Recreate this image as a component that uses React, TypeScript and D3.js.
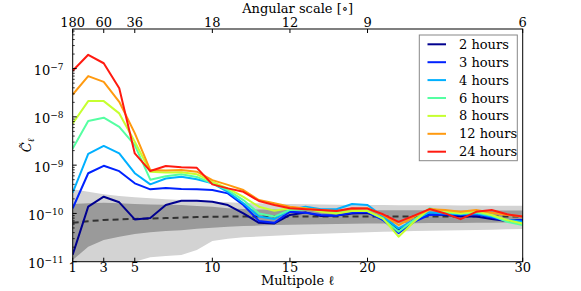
import * as d3 from "d3";

const multipoles = [1, 2, 3, 4, 5, 6, 7, 8, 9, 10, 11, 12, 13, 14, 15, 16, 17, 18, 19, 20, 21, 22, 23, 24, 25, 26, 27, 28, 29, 30];

const hours2 = [1.4e-11, 1.38e-10, 2.22e-10, 1.7e-10, 7.5e-11, 8.0e-11, 1.49e-10, 1.83e-10, 1.83e-10, 1.75e-10, 1.49e-10, 1.0e-10, 6.4e-11, 6.2e-11, 9.3e-11, 1.05e-10, 8.8e-11, 9.1e-11, 1.0e-10, 1.02e-10, 7.9e-11, 4.5e-11, 7.3e-11, 9.6e-11, 9.3e-11, 8.6e-11, 8.6e-11, 7.7e-11, 7.0e-11, 7.3e-11];
const hours3 = [1.28e-10, 6.8e-10, 9.7e-10, 7.5e-10, 4.2e-10, 3.15e-10, 3.36e-10, 3.2e-10, 3.15e-10, 3.05e-10, 2.6e-10, 1.49e-10, 7.0e-11, 6.4e-11, 1.08e-10, 1.03e-10, 9.3e-11, 9.0e-11, 1.03e-10, 1.07e-10, 7.3e-11, 3.9e-11, 6.7e-11, 9.3e-11, 9.6e-11, 9.3e-11, 9.6e-11, 8.2e-11, 7.0e-11, 7.3e-11];
const hours4 = [2.7e-10, 1.72e-9, 2.5e-9, 1.75e-9, 6.8e-10, 4.0e-10, 5.3e-10, 5.75e-10, 5.1e-10, 4.2e-10, 2.8e-10, 1.62e-10, 8.6e-11, 7.7e-11, 1.18e-10, 1.38e-10, 1.22e-10, 1.22e-10, 1.57e-10, 1.49e-10, 8.6e-11, 4.9e-11, 7.3e-11, 1.05e-10, 1.0e-10, 9.6e-11, 1.0e-10, 8.6e-11, 7.3e-11, 6.7e-11];
const hours6 = [2.2e-9, 8.2e-9, 9.6e-9, 6.2e-9, 2.6e-9, 5.0e-10, 5.9e-10, 6.45e-10, 5.7e-10, 4.2e-10, 3.05e-10, 1.89e-10, 1.0e-10, 8.6e-11, 1.18e-10, 1.22e-10, 1.12e-10, 1.05e-10, 1.18e-10, 1.12e-10, 7.7e-11, 4.2e-11, 7.3e-11, 1.28e-10, 1.05e-10, 1.0e-10, 1.05e-10, 9.0e-11, 6.7e-11, 5.75e-11];
const hours8 = [7.3e-9, 2.12e-8, 2.12e-8, 1.18e-8, 3.05e-9, 7.3e-10, 7.0e-10, 7.1e-10, 6.45e-10, 4.5e-10, 3.3e-10, 2.2e-10, 1.38e-10, 1.14e-10, 1.28e-10, 1.28e-10, 1.08e-10, 1.0e-10, 1.12e-10, 1.12e-10, 7.9e-11, 3.3e-11, 6.7e-11, 1.23e-10, 1.12e-10, 1.0e-10, 1.12e-10, 9.3e-11, 7.3e-11, 6.2e-11];
const hours12 = [2.9e-8, 7.0e-8, 5.3e-8, 2.05e-8, 4.6e-9, 7.9e-10, 7.7e-10, 7.9e-10, 7.3e-10, 4.9e-10, 3.9e-10, 3.05e-10, 1.89e-10, 1.62e-10, 1.38e-10, 1.26e-10, 1.18e-10, 1.12e-10, 1.23e-10, 1.28e-10, 9.3e-11, 5.75e-11, 8.6e-11, 1.22e-10, 1.18e-10, 1.08e-10, 1.18e-10, 1.03e-10, 9.3e-11, 8.6e-11];
const hours24 = [9.0e-8, 1.93e-7, 1.29e-7, 3.9e-8, 1.75e-9, 7.55e-10, 9.6e-10, 9.0e-10, 8.8e-10, 4.0e-10, 3.3e-10, 2.8e-10, 1.81e-10, 1.49e-10, 1.28e-10, 1.22e-10, 1.18e-10, 1.12e-10, 1.28e-10, 1.26e-10, 9.6e-11, 6.7e-11, 9.0e-11, 1.23e-10, 1.0e-10, 7.6e-11, 1.08e-10, 1.18e-10, 9.6e-11, 8.6e-11];

const nullMean = [6.4e-11, 6.9e-11, 7.3e-11, 7.5e-11, 7.7e-11, 7.8e-11, 8.0e-11, 8.2e-11, 8.4e-11, 8.55e-11, 8.6e-11, 8.6e-11, 8.6e-11, 8.6e-11, 8.6e-11, 8.6e-11, 8.6e-11, 8.6e-11, 8.6e-11, 8.6e-11, 8.6e-11, 8.6e-11, 8.6e-11, 8.6e-11, 8.6e-11, 8.6e-11, 8.6e-11, 8.6e-11, 8.6e-11, 8.6e-11];
const sigma1Upper = [1.57e-10, 1.62e-10, 1.67e-10, 1.62e-10, 1.57e-10, 1.53e-10, 1.51e-10, 1.49e-10, 1.42e-10, 1.38e-10, 1.28e-10, 1.23e-10, 1.2e-10, 1.2e-10, 1.19e-10, 1.19e-10, 1.18e-10, 1.18e-10, 1.17e-10, 1.17e-10, 1.17e-10, 1.16e-10, 1.16e-10, 1.16e-10, 1.16e-10, 1.15e-10, 1.15e-10, 1.15e-10, 1.15e-10, 1.15e-10];
const sigma1Lower = [1.08e-11, 2.05e-11, 2.8e-11, 3.3e-11, 3.75e-11, 4.05e-11, 4.3e-11, 4.5e-11, 4.8e-11, 5.05e-11, 5.3e-11, 5.5e-11, 5.6e-11, 5.75e-11, 5.85e-11, 5.9e-11, 6.0e-11, 6.05e-11, 6.1e-11, 6.2e-11, 6.2e-11, 6.25e-11, 6.25e-11, 6.3e-11, 6.3e-11, 6.35e-11, 6.4e-11, 6.4e-11, 6.45e-11, 6.5e-11];
const sigma2Upper = [3.15e-10, 2.8e-10, 2.5e-10, 2.3e-10, 2.15e-10, 2.05e-10, 1.96e-10, 1.89e-10, 1.81e-10, 1.75e-10, 1.7e-10, 1.64e-10, 1.62e-10, 1.59e-10, 1.57e-10, 1.55e-10, 1.53e-10, 1.52e-10, 1.5e-10, 1.49e-10, 1.49e-10, 1.48e-10, 1.48e-10, 1.47e-10, 1.47e-10, 1.46e-10, 1.46e-10, 1.45e-10, 1.45e-10, 1.45e-10];
const sigma2Lower = [7e-12, 7e-12, 7e-12, 8.5e-12, 1.0e-11, 1.23e-11, 1.31e-11, 1.38e-11, 1.75e-11, 2.68e-11, 3.0e-11, 3.2e-11, 3.32e-11, 3.44e-11, 3.57e-11, 3.7e-11, 3.78e-11, 3.87e-11, 3.98e-11, 4.08e-11, 4.16e-11, 4.22e-11, 4.3e-11, 4.36e-11, 4.42e-11, 4.47e-11, 4.54e-11, 4.6e-11, 4.68e-11, 4.75e-11];

const seriesLabels = ["2 hours", "3 hours", "4 hours", "6 hours", "8 hours", "12 hours", "24 hours"];
const seriesValues = [hours2, hours3, hours4, hours6, hours8, hours12, hours24];
const seriesColors = ["#00008f", "#0022ff", "#00b0ff", "#55ffa2", "#c6ff30", "#ff9a10", "#ff1a10"];

const bottomTicks = [1, 3, 5, 10, 15, 20, 30];
const angularTicks = [180, 60, 36, 18, 12, 9, 6];
const yTickExponents = [-11, -10, -9, -8, -7];

const W = 581;
const H = 291;
const left = 72.7, right = 522.7, top = 29, bottom = 261.7;
const font = "DejaVu Serif, serif";

export default function App() {
    const x = d3.scaleLinear().domain([1, 30]).range([left, right]);
    const y = d3.scaleLog().domain([1e-11, Math.pow(10, -6.18)]).range([bottom, top]);

    const band = (lo: number[], hi: number[]) =>
        d3.area<number>()
            .x((_, i) => x(multipoles[i]))
            .y0((_, i) => y(lo[i]))
            .y1((_, i) => y(hi[i]))(multipoles) || "";

    const line = (vals: number[]) =>
        d3.line<number>()
            .x((_, i) => x(multipoles[i]))
            .y(d => y(d))(vals) || "";

    // minor log ticks
    const minor: number[] = [];
    for (let e = -11; e <= -7; e++) {
        for (let m = 2; m <= 9; m++) {
            const v = m * Math.pow(10, e);
            if (y(v) >= top) minor.push(v);
        }
    }

    const legendX = 419.3, legendY = 35, legendW = 98, legendH = 125.7;

    return (
        <svg width={W} height={H} style={{ position: "absolute", left: 0, top: 0, background: "#fff" }}>
            <defs>
                <clipPath id="plot">
                    <rect x={left} y={top} width={right - left} height={bottom - top} />
                </clipPath>
            </defs>
            <g clipPath="url(#plot)">
                <path d={band(sigma2Lower, sigma2Upper)} fill="#d3d3d3" />
                <path d={band(sigma1Lower, sigma1Upper)} fill="#9a9a9a" />
                <path d={line(nullMean)} fill="none" stroke="#333" strokeWidth={2} strokeDasharray="6,4" />
                {seriesValues.map((vals, i) => (
                    <path key={i} d={line(vals)} fill="none" stroke={seriesColors[i]} strokeWidth={2} strokeLinejoin="round" />
                ))}
            </g>

            {/* spines */}
            <rect x={left} y={top} width={right - left} height={bottom - top} fill="none" stroke="#000" strokeWidth={1} />

            {/* bottom axis */}
            {bottomTicks.map(t => (
                <g key={"b" + t}>
                    <line x1={x(t)} x2={x(t)} y1={bottom} y2={bottom - 4} stroke="#000" />
                    <text x={x(t)} y={271.7} textAnchor="middle" fontFamily={font} fontSize={13}>{t}</text>
                </g>
            ))}
            <text x={(left + right) / 2} y={284.5} textAnchor="middle" fontFamily={font} fontSize={13}>
                Multipole ℓ
            </text>

            {/* top axis */}
            {angularTicks.map(t => (
                <g key={"t" + t}>
                    <line x1={x(180 / t)} x2={x(180 / t)} y1={top} y2={top + 4} stroke="#000" />
                    <text x={x(180 / t)} y={26.7} textAnchor="middle" fontFamily={font} fontSize={13}>{t}</text>
                </g>
            ))}
            <text x={(left + right) / 2} y={13} textAnchor="middle" fontFamily={font} fontSize={13}>
                Angular scale [∘]
            </text>

            {/* left axis */}
            {yTickExponents.map(e => (
                <g key={"y" + e}>
                    <line x1={left} x2={left + 4} y1={y(Math.pow(10, e))} y2={y(Math.pow(10, e))} stroke="#000" />
                    <text x={63.5} y={y(Math.pow(10, e)) + 6.6} textAnchor="end" fontFamily={font} fontSize={13}>
                        10<tspan fontSize={9} dy={-5}>{"\u2212" + Math.abs(e)}</tspan>
                    </text>
                </g>
            ))}
            {minor.map((v, i) => (
                <line key={"m" + i} x1={left} x2={left + 2} y1={y(v)} y2={y(v)} stroke="#000" strokeWidth={0.8} />
            ))}
            <text transform={`translate(31, ${(top + bottom) / 2}) rotate(-90)`} textAnchor="middle" fontFamily={font} fontSize={13} fontStyle="italic">
                {"C\u0303"}<tspan fontSize={9} dy={3}>ℓ</tspan>
            </text>

            {/* legend */}
            <rect x={legendX} y={legendY} width={legendW} height={legendH} fill="#fff" stroke="#888" strokeWidth={1} />
            {seriesLabels.map((s, i) => {
                const ly = 44.3 + i * 17.9;
                return (
                    <g key={s}>
                        <line x1={427.5} x2={446} y1={ly} y2={ly} stroke={seriesColors[i]} strokeWidth={2} />
                        <text x={459} y={ly + 4.5} fontFamily={font} fontSize={13}>{s}</text>
                    </g>
                );
            })}
        </svg>
    );
}
